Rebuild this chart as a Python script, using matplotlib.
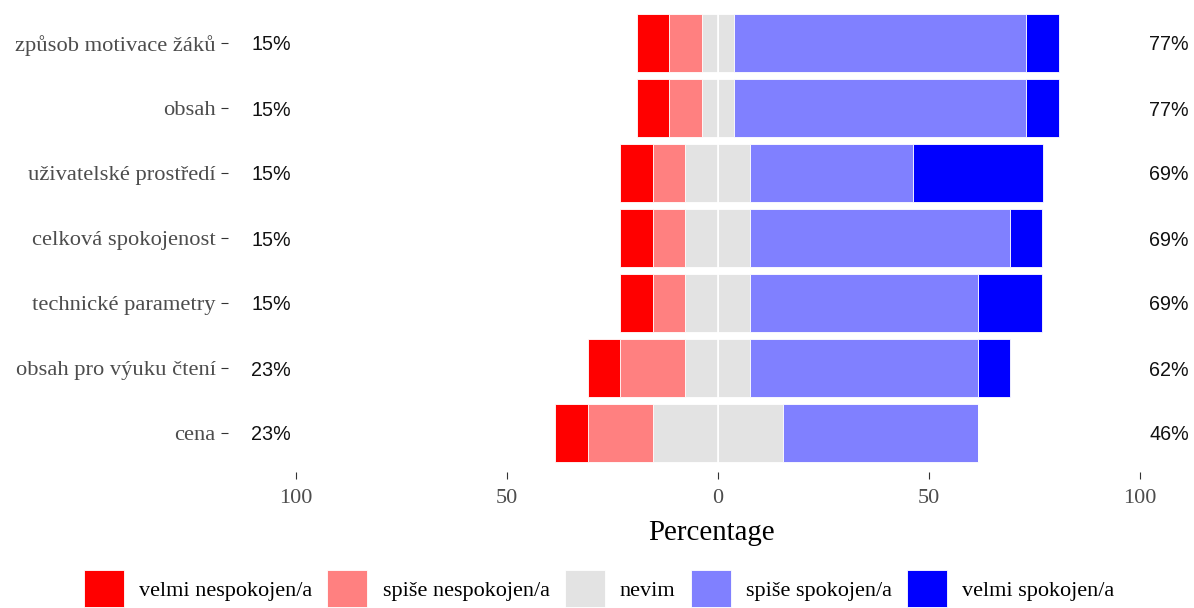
import matplotlib
matplotlib.use("Agg")
import matplotlib.pyplot as plt
from matplotlib.patches import Patch
import numpy as np

# data (percent of respondents, n = 13), top row first
kategorie = ["způsob motivace žáků", "obsah", "uživatelské prostředí",
             "celková spokojenost", "technické parametry",
             "obsah pro výuku čtení", "cena"]
velmi_nespokojen = [7.7, 7.7, 7.7, 7.7, 7.7, 7.7, 7.7]
spise_nespokojen = [7.7, 7.7, 7.7, 7.7, 7.7, 15.4, 15.4]
nevim = [7.7, 7.7, 15.4, 15.4, 15.4, 15.4, 30.8]
spise_spokojen = [69.2, 69.2, 38.5, 61.5, 53.8, 53.8, 46.2]
velmi_spokojen = [7.7, 7.7, 30.8, 7.7, 15.4, 7.7, 0.0]
vlevo_pct = ["15%", "15%", "15%", "15%", "15%", "23%", "23%"]
vpravo_pct = ["77%", "77%", "69%", "69%", "69%", "62%", "46%"]

urovne = ["velmi nespokojen/a", "spiše nespokojen/a", "nevim",
          "spiše spokojen/a", "velmi spokojen/a"]
barvy = ["#FF0000", "#FF8080", "#E3E3E3", "#8080FF", "#0000FF"]

serif = "Liberation Serif"
sans = "Liberation Sans"

fig = plt.figure(figsize=(11.94, 6.08), dpi=100)
ax = fig.add_axes([228 / 1194, 1 - 472 / 608, 966 / 1194, 468 / 608])

n = len(kategorie)
y = np.arange(n)[::-1]  # first category on top
h = 0.9
ec = dict(edgecolor="white", linewidth=0.6)

vn = np.array(velmi_nespokojen)
sn = np.array(spise_nespokojen)
ne = np.array(nevim)
ss = np.array(spise_spokojen)
vs = np.array(velmi_spokojen)

# left side (negative)
ax.barh(y, -ne / 2, height=h, color=barvy[2], **ec)
ax.barh(y, -sn, left=-ne / 2, height=h, color=barvy[1], **ec)
ax.barh(y, -vn, left=-ne / 2 - sn, height=h, color=barvy[0], **ec)
# right side (positive)
ax.barh(y, ne / 2, height=h, color=barvy[2], **ec)
ax.barh(y, ss, left=ne / 2, height=h, color=barvy[3], **ec)
ax.barh(y, vs, left=ne / 2 + ss, height=h, color=barvy[4], **ec)

ax.axvline(0, color="white", linewidth=1.2, zorder=5)

for yi, l, r in zip(y, vlevo_pct, vpravo_pct):
    ax.text(-105.9, yi, l, ha="center", va="center_baseline", family=sans,
            fontsize=14.2, color="#111111")
    ax.text(106.9, yi, r, ha="center", va="center_baseline", family=sans,
            fontsize=14.2, color="#111111")

ax.set_xlim(-116.1, 112.8)
ax.set_ylim(-0.6, n - 0.4)
ax.set_yticks(y)
ax.set_yticklabels(kategorie, family=serif, fontsize=16.2, color="#4D4D4D")
ax.set_xticks([-100, -50, 0, 50, 100])
ax.set_xticklabels(["100", "50", "0", "50", "100"], family=serif,
                   fontsize=16, color="#4D4D4D")
ax.tick_params(axis="both", length=5, width=0.8, color="#333333", pad=4)
ax.tick_params(axis="x", pad=7)
ax.set_xlabel("Percentage", family=serif, fontsize=20.8, labelpad=9)
for s in ax.spines.values():
    s.set_visible(False)

handles = [Patch(facecolor=c, edgecolor="white", linewidth=0.6) for c in barvy]
fig.legend(handles, urovne, loc="upper left",
           bbox_to_anchor=(84 / 1194, 1 - 570 / 608), borderaxespad=0,
           ncol=5, frameon=False, prop={"family": serif, "size": 16},
           handlelength=1.8, handleheight=2.2, handletextpad=0.68,
           columnspacing=0.68, borderpad=0)

fig.savefig("out.png", dpi=100)
